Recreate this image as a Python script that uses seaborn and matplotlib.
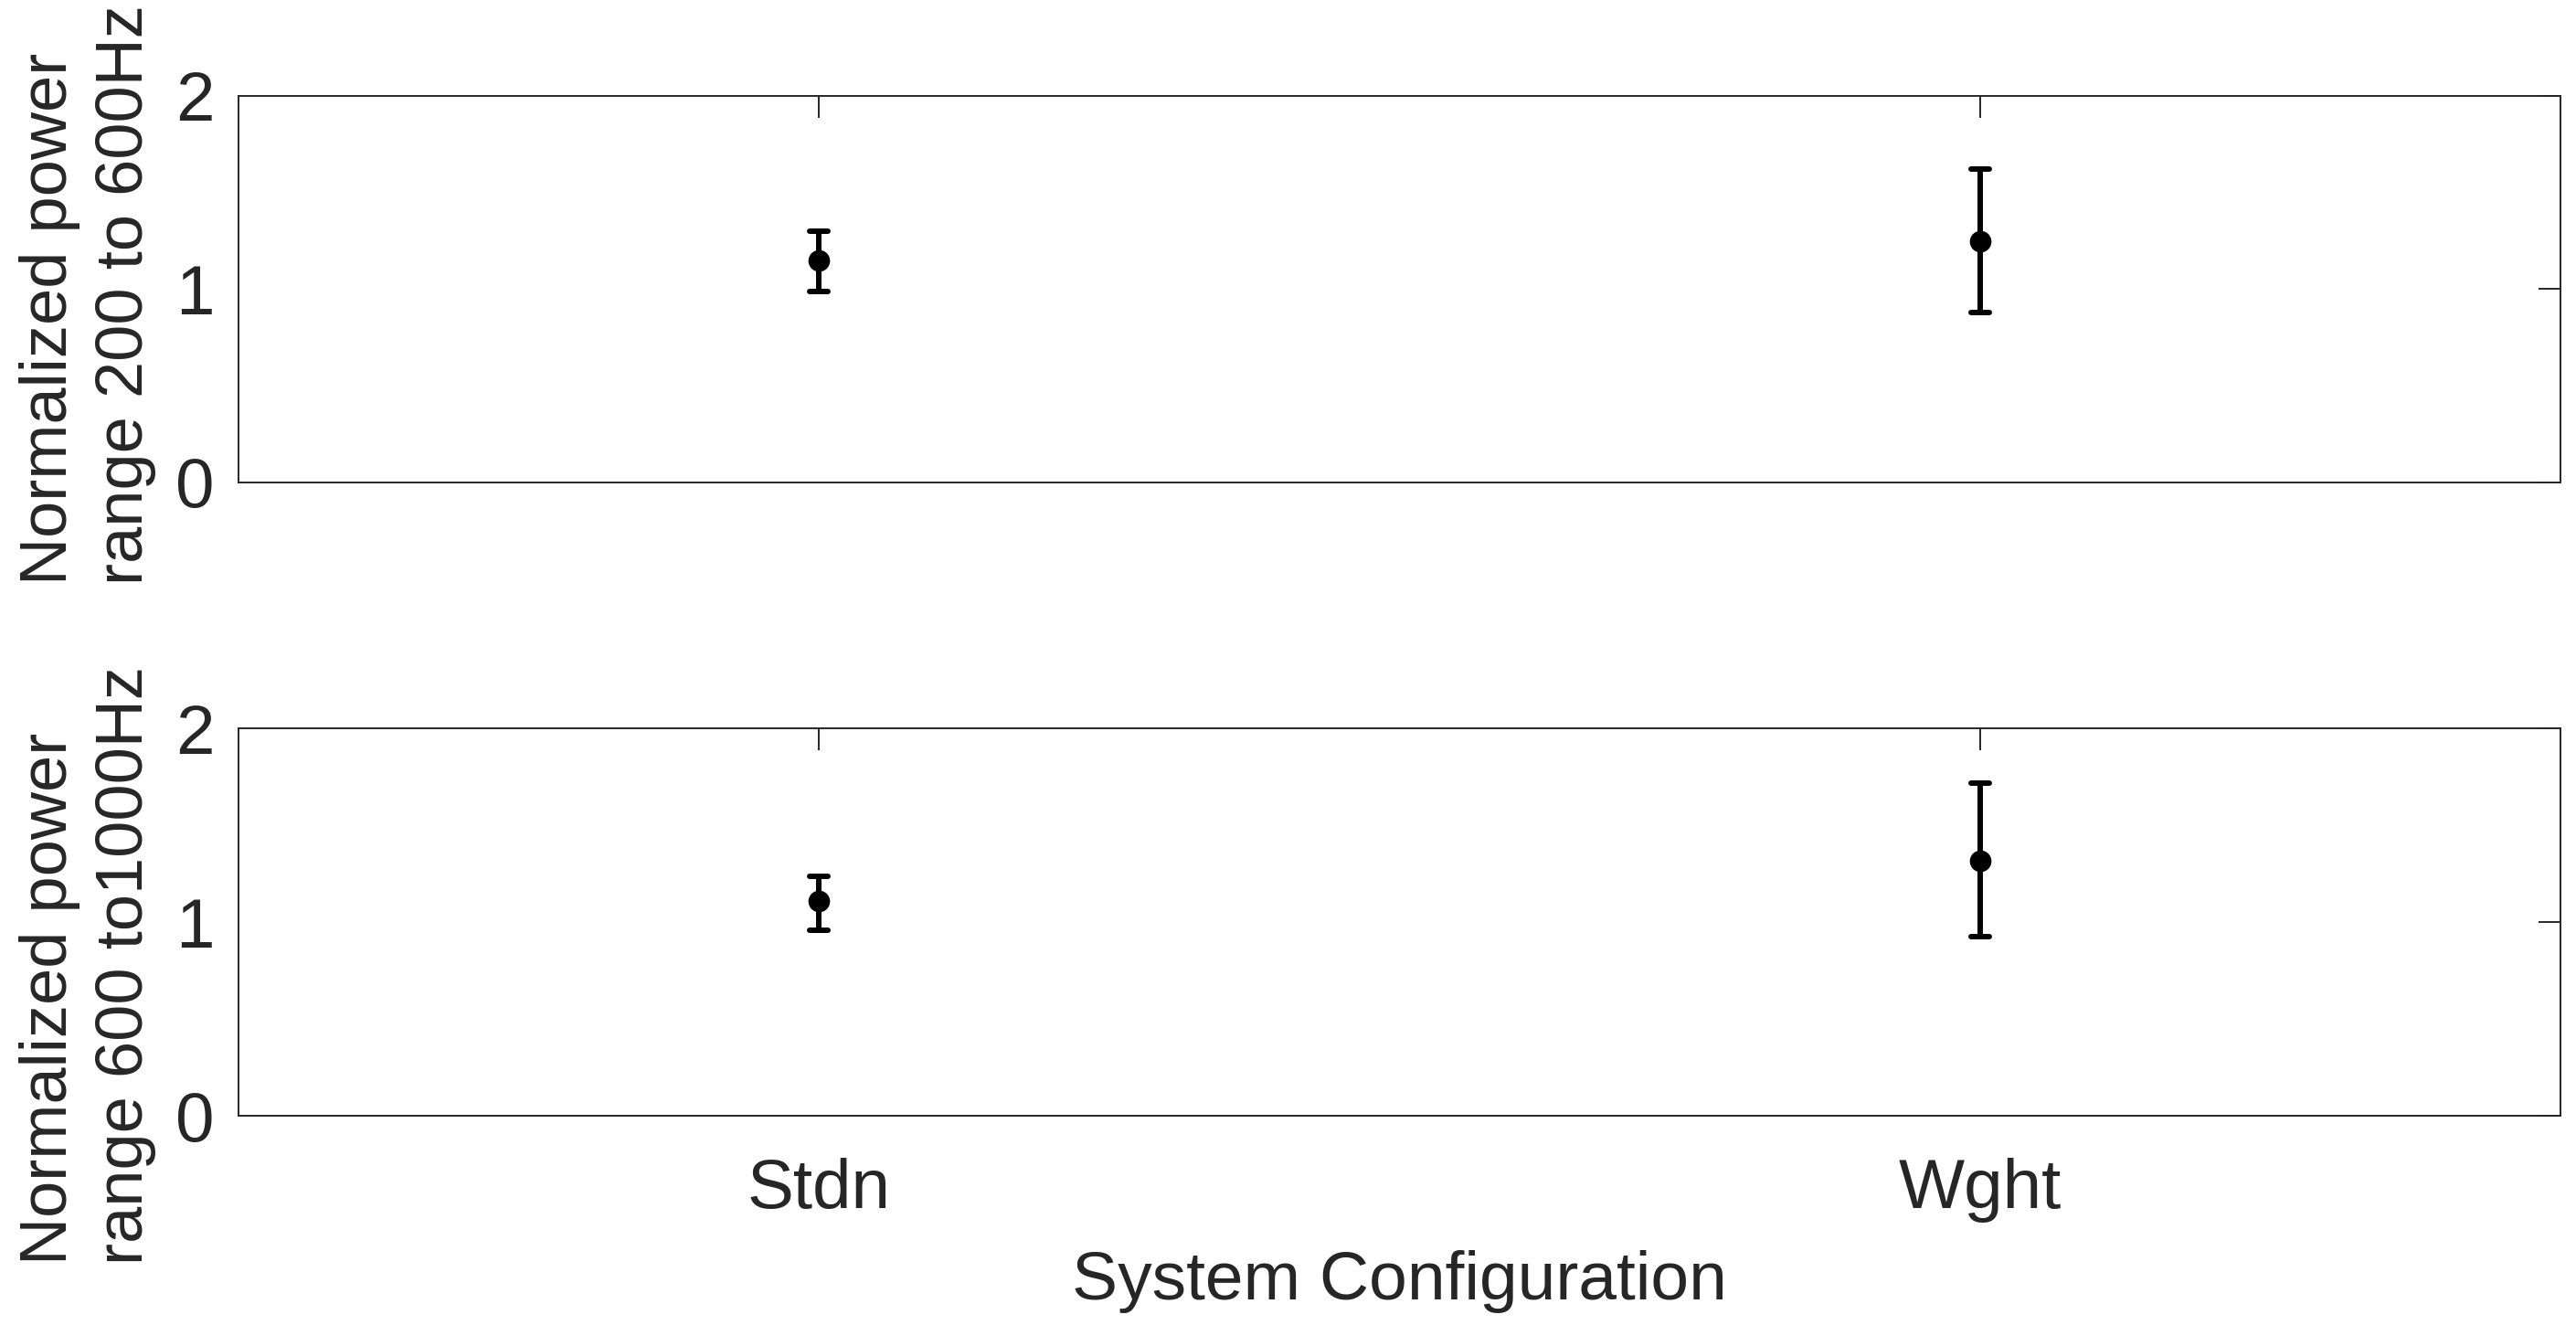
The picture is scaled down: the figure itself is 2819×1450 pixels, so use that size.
import numpy as np
import pandas as pd
import matplotlib
matplotlib.use("Agg")
import matplotlib.pyplot as plt
import seaborn as sns

# ---- data ----
configs = ["Stdn", "Wght"]
# panel 1: 200-600 Hz  (lower end, mean, upper end of error bar)
low_200_600 = [0.99, 0.877]
mean_200_600 = [1.147, 1.25]
high_200_600 = [1.30, 1.622]
# panel 2: 600-1000 Hz
low_600_1000 = [0.958, 0.923]
mean_600_1000 = [1.107, 1.318]
high_600_1000 = [1.238, 1.715]

ylabels = ["Normalized power\nrange 200 to 600Hz",
           "Normalized power\nrange 600 to1000Hz"]
xlabel = "System Configuration"
yticks = [0, 1, 2]

sns.set_theme(style="white")
plt.rcParams["font.family"] = ["Liberation Sans", "DejaVu Sans"]
TXT = "#262626"

def make_df(lo, mu, hi):
    rows = []
    for c, a, b, d in zip(configs, lo, mu, hi):
        for v in (a, b, d):
            rows.append({"config": c, "value": v})
    return pd.DataFrame(rows)

fig = plt.figure(figsize=(28.19, 14.50), dpi=100)
L, R = 0.0926, 0.994
ax1 = fig.add_axes([L, 0.6359, R - L, 0.9276 - 0.6359])
ax2 = fig.add_axes([L, 0.1579, R - L, 0.4503 - 0.1579])

panels = [(ax1, make_df(low_200_600, mean_200_600, high_200_600)),
          (ax2, make_df(low_600_1000, mean_600_1000, high_600_1000))]

for i, (ax, df) in enumerate(panels):
    sns.pointplot(data=df, x="config", y="value", order=configs, ax=ax,
                  estimator="median",
                  errorbar=lambda v: (np.min(v), np.max(v)),
                  color="black", markers="o", linestyles="none",
                  markersize=15, capsize=0.016,
                  err_kws={"linewidth": 4.3})
    ax.set_xlim(-0.5, 1.5)
    ax.set_ylim(0, 2)
    ax.set_yticks(yticks)
    ax.set_yticklabels([str(t) for t in yticks])
    ax.tick_params(direction="in", top=True, right=True, length=17,
                   width=1.4, colors=TXT, labelsize=55, labelcolor=TXT)
    ax.tick_params(axis="x", pad=33)
    ax.tick_params(axis="y", pad=19)
    for s in ax.spines.values():
        s.set_visible(True)
        s.set_linewidth(1.4)
        s.set_color(TXT)
    ax.set_ylabel(ylabels[i], fontsize=52, color=TXT, multialignment="left",
                  linespacing=1.3)
    ax.set_xlabel("")

ax1.yaxis.set_label_coords(-0.0354, 0.485)
ax2.yaxis.set_label_coords(-0.0354, 0.389)
ax1.tick_params(axis="x", labelbottom=False)
ax2.set_xlabel(xlabel, fontsize=54, color=TXT, labelpad=22)

fig.savefig("out.png", dpi=100)
